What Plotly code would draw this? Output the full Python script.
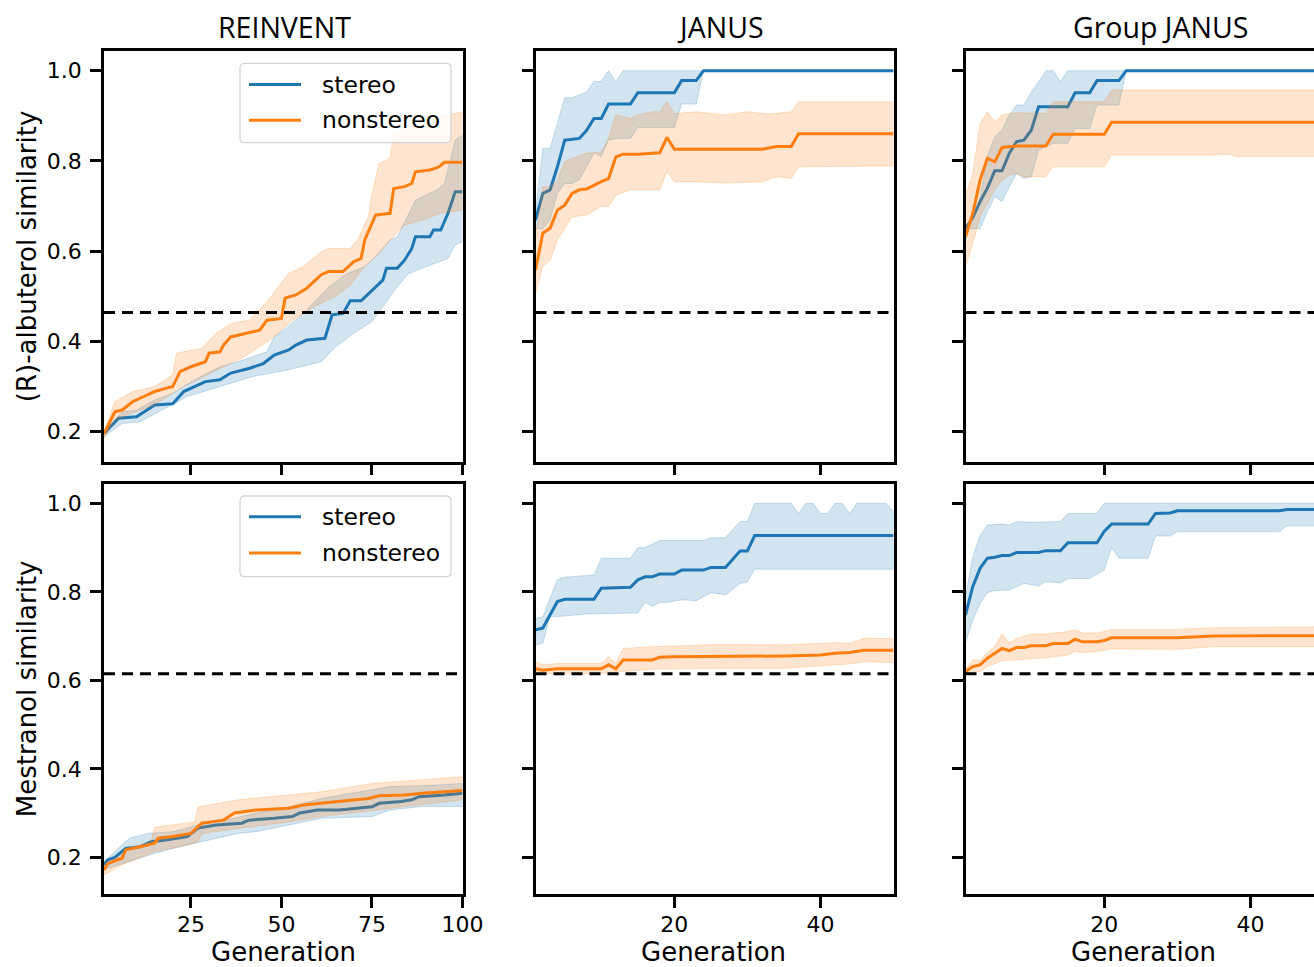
import plotly.graph_objects as go

# ---------------- data ----------------
COL_TITLES = ["REINVENT", "JANUS", "Group JANUS"]
ROW_LABELS = ["(R)-albuterol similarity", "Mestranol similarity"]
SERIES = ["stereo", "nonstereo"]
X_LABEL = "Generation"
THRESHOLDS = [0.464, 0.615]
X_TICKS = [[25, 50, 75, 100], [20, 40], [20, 40]]
Y_TICKS = [0.2, 0.4, 0.6, 0.8, 1.0]
Y_TICK_TEXT = ["0.2", "0.4", "0.6", "0.8", "1.0"]

# ---- REINVENT / (R)-albuterol ----
rein_alb_st_g = [1, 5, 10, 15, 20, 23, 26, 29, 33, 36, 41, 45, 48, 52, 54, 57, 62, 64, 67, 69, 72, 75, 78, 79, 82, 84, 86, 87, 91, 92, 94, 96, 98, 100]
rein_alb_st = [0.196, 0.23, 0.233, 0.259, 0.262, 0.289, 0.30, 0.311, 0.315, 0.33, 0.34, 0.351, 0.37, 0.381, 0.392, 0.403, 0.407, 0.459, 0.462, 0.49, 0.49, 0.514, 0.536, 0.562, 0.562, 0.58, 0.606, 0.632, 0.632, 0.647, 0.647, 0.684, 0.732, 0.732]
rein_alb_st_up_g = [1, 6, 10, 15, 20, 26, 33, 38, 46, 48, 54, 57, 63, 68, 73, 76, 80, 82, 87, 93, 95, 98, 100]
rein_alb_st_up = [0.2, 0.244, 0.248, 0.27, 0.285, 0.315, 0.344, 0.355, 0.377, 0.41, 0.447, 0.47, 0.52, 0.55, 0.566, 0.588, 0.625, 0.632, 0.713, 0.736, 0.75, 0.846, 0.857]
rein_alb_st_lo_g = [1, 6, 11, 17, 24, 33, 42, 52, 61, 65, 70, 75, 78, 82, 85, 90, 96, 98, 100]
rein_alb_st_lo = [0.189, 0.218, 0.222, 0.248, 0.278, 0.30, 0.322, 0.337, 0.355, 0.388, 0.418, 0.444, 0.477, 0.521, 0.55, 0.566, 0.584, 0.614, 0.621]
rein_alb_ns_g = [1, 4, 6, 9, 12, 15, 18, 20, 22, 25, 29, 30, 33, 34, 36, 40, 44, 46, 50, 51, 54, 57, 61, 63, 67, 70, 72, 73, 76, 80, 81, 84, 86, 87, 91, 93, 94, 95, 100]
rein_alb_ns = [0.196, 0.244, 0.248, 0.267, 0.278, 0.289, 0.296, 0.30, 0.333, 0.344, 0.355, 0.374, 0.377, 0.392, 0.41, 0.418, 0.425, 0.447, 0.451, 0.496, 0.503, 0.518, 0.548, 0.555, 0.555, 0.577, 0.584, 0.625, 0.68, 0.684, 0.739, 0.743, 0.75, 0.776, 0.78, 0.785, 0.79, 0.797, 0.797]
rein_alb_ns_up_g = [1, 4, 9, 15, 20, 21, 28, 32, 36, 41, 46, 52, 56, 61, 63, 69, 71, 74, 75, 77, 80, 81, 85, 89, 100]
rein_alb_ns_up = [0.2, 0.267, 0.289, 0.30, 0.326, 0.374, 0.385, 0.418, 0.44, 0.447, 0.488, 0.551, 0.566, 0.599, 0.606, 0.606, 0.625, 0.677, 0.728, 0.795, 0.806, 0.861, 0.872, 0.89, 0.909]
rein_alb_ns_lo_g = [1, 4, 11, 15, 22, 27, 33, 39, 48, 52, 59, 65, 69, 73, 77, 80, 84, 89, 94, 100]
rein_alb_ns_lo = [0.185, 0.226, 0.248, 0.259, 0.296, 0.315, 0.34, 0.362, 0.41, 0.44, 0.477, 0.50, 0.525, 0.566, 0.595, 0.625, 0.658, 0.669, 0.684, 0.691]

# ---- JANUS / (R)-albuterol ----
janus_alb_st_g = [1, 2, 3, 4, 5, 7, 8, 9, 10, 11, 14, 15, 20, 21, 23, 24, 50]
janus_alb_st = [0.669, 0.728, 0.736, 0.787, 0.846, 0.85, 0.868, 0.894, 0.894, 0.926, 0.926, 0.951, 0.951, 0.978, 0.978, 1.0, 1.0]
janus_alb_st_up_g = [1, 2, 3, 5, 6, 8, 9, 10, 11, 12, 13, 24, 50]
janus_alb_st_up = [0.684, 0.828, 0.828, 0.94, 0.94, 0.953, 0.976, 0.976, 1.0, 0.976, 1.0, 1.0, 1.0]
janus_alb_st_lo_g = [1, 2, 3, 4, 5, 6, 7, 8, 9, 10, 11, 12, 14, 15, 20, 21, 23, 24, 50]
janus_alb_st_lo = [0.65, 0.65, 0.669, 0.728, 0.75, 0.75, 0.758, 0.787, 0.817, 0.81, 0.846, 0.85, 0.85, 0.874, 0.874, 0.926, 0.926, 1.0, 1.0]
janus_alb_ns_g = [1, 2, 3, 4, 5, 6, 7, 8, 10, 11, 12, 13, 15, 18, 19, 20, 32, 34, 36, 37, 50]
janus_alb_ns = [0.558, 0.64, 0.651, 0.691, 0.702, 0.728, 0.736, 0.738, 0.754, 0.761, 0.809, 0.815, 0.815, 0.818, 0.852, 0.826, 0.826, 0.832, 0.832, 0.86, 0.86]
janus_alb_ns_up_g = [1, 2, 3, 4, 5, 6, 8, 10, 11, 12, 14, 15, 17, 18, 19, 20, 23, 27, 30, 33, 36, 37, 50]
janus_alb_ns_up = [0.632, 0.743, 0.743, 0.758, 0.798, 0.806, 0.817, 0.82, 0.85, 0.902, 0.894, 0.902, 0.909, 0.909, 0.931, 0.905, 0.909, 0.902, 0.909, 0.904, 0.909, 0.931, 0.931]
janus_alb_ns_lo_g = [1, 2, 3, 4, 6, 8, 10, 11, 12, 14, 18, 19, 20, 23, 27, 32, 34, 36, 37, 50]
janus_alb_ns_lo = [0.507, 0.566, 0.58, 0.625, 0.676, 0.68, 0.699, 0.699, 0.724, 0.736, 0.736, 0.776, 0.754, 0.754, 0.751, 0.754, 0.765, 0.761, 0.787, 0.789]

# ---- Group JANUS / (R)-albuterol ----
gjanus_alb_st_g = [1, 2, 3, 4, 5, 6, 7, 8, 9, 10, 11, 15, 16, 18, 19, 22, 23, 50]
gjanus_alb_st = [0.65, 0.675, 0.71, 0.74, 0.778, 0.778, 0.817, 0.843, 0.846, 0.868, 0.92, 0.92, 0.951, 0.951, 0.978, 0.978, 1.0, 1.0]
gjanus_alb_st_up_g = [1, 2, 3, 4, 5, 6, 7, 8, 9, 10, 11, 12, 13, 14, 15, 23, 50]
gjanus_alb_st_up = [0.654, 0.67, 0.72, 0.81, 0.854, 0.868, 0.902, 0.924, 0.924, 0.953, 0.975, 1.0, 1.0, 0.976, 1.0, 1.0, 1.0]
gjanus_alb_st_lo_g = [1, 3, 4, 5, 6, 7, 8, 9, 10, 11, 13, 15, 16, 18, 19, 22, 23, 50]
gjanus_alb_st_lo = [0.65, 0.65, 0.688, 0.721, 0.71, 0.743, 0.772, 0.761, 0.765, 0.824, 0.839, 0.839, 0.872, 0.872, 0.924, 0.924, 1.0, 1.0]
gjanus_alb_ns_g = [1, 2, 3, 4, 5, 6, 8, 12, 13, 20, 21, 50]
gjanus_alb_ns = [0.632, 0.684, 0.758, 0.806, 0.798, 0.83, 0.833, 0.833, 0.859, 0.859, 0.886, 0.886]
gjanus_alb_ns_up_g = [1, 2, 3, 4, 5, 6, 8, 12, 13, 20, 21, 50]
gjanus_alb_ns_up = [0.721, 0.772, 0.883, 0.909, 0.887, 0.902, 0.907, 0.905, 0.931, 0.931, 0.957, 0.957]
gjanus_alb_ns_lo_g = [1, 2, 3, 5, 6, 7, 8, 9, 12, 13, 20, 21, 35, 37, 38, 50]
gjanus_alb_ns_lo = [0.566, 0.617, 0.676, 0.736, 0.758, 0.769, 0.772, 0.765, 0.765, 0.787, 0.787, 0.813, 0.813, 0.815, 0.81, 0.81]

# ---- REINVENT / Mestranol ----
rein_mes_st_g = [1, 2, 4, 7, 11, 14, 18, 24, 27, 32, 39, 41, 48, 53, 55, 60, 66, 71, 75, 77, 83, 86, 88, 95, 100]
rein_mes_st = [0.183, 0.194, 0.2, 0.22, 0.224, 0.235, 0.239, 0.247, 0.266, 0.273, 0.277, 0.284, 0.288, 0.292, 0.30, 0.307, 0.307, 0.311, 0.314, 0.322, 0.326, 0.33, 0.337, 0.341, 0.345]
rein_mes_st_up_g = [1, 8, 13, 20, 27, 35, 43, 50, 61, 70, 80, 90, 100]
rein_mes_st_up = [0.19, 0.243, 0.254, 0.258, 0.273, 0.285, 0.30, 0.31, 0.333, 0.345, 0.36, 0.362, 0.367]
rein_mes_st_lo_g = [1, 15, 24, 38, 43, 52, 61, 75, 80, 89, 100]
rein_mes_st_lo = [0.172, 0.209, 0.228, 0.254, 0.258, 0.273, 0.288, 0.292, 0.307, 0.315, 0.315]
rein_mes_ns_g = [1, 2, 6, 7, 11, 15, 16, 20, 25, 26, 28, 34, 37, 43, 52, 56, 61, 67, 74, 77, 84, 89, 94, 100]
rein_mes_ns = [0.171, 0.186, 0.198, 0.217, 0.224, 0.232, 0.243, 0.247, 0.254, 0.262, 0.277, 0.284, 0.30, 0.307, 0.311, 0.318, 0.322, 0.326, 0.333, 0.339, 0.341, 0.345, 0.348, 0.351]
rein_mes_ns_up_g = [1, 8, 14, 15, 26, 27, 38, 52, 61, 75, 89, 100]
rein_mes_ns_up = [0.18, 0.22, 0.235, 0.268, 0.28, 0.314, 0.33, 0.341, 0.348, 0.367, 0.375, 0.382]
rein_mes_ns_lo_g = [1, 6, 15, 24, 27, 28, 38, 52, 61, 75, 89, 100]
rein_mes_ns_lo = [0.16, 0.183, 0.213, 0.228, 0.235, 0.254, 0.265, 0.28, 0.292, 0.306, 0.32, 0.33]

# ---- JANUS / Mestranol ----
janus_mes_st_g = [1, 2, 4, 5, 9, 10, 14, 15, 16, 17, 18, 20, 21, 24, 25, 27, 29, 30, 31, 50]
janus_mes_st = [0.714, 0.718, 0.778, 0.783, 0.783, 0.808, 0.81, 0.827, 0.834, 0.834, 0.84, 0.84, 0.849, 0.849, 0.855, 0.855, 0.892, 0.892, 0.927, 0.927]
janus_mes_st_up_g = [1, 2, 4, 5, 9, 10, 14, 15, 16, 18, 24, 25, 27, 29, 30, 31, 36, 37, 38, 39, 40, 41, 42, 43, 44, 45, 49, 50]
janus_mes_st_up = [0.74, 0.743, 0.828, 0.833, 0.838, 0.876, 0.876, 0.9, 0.9, 0.916, 0.916, 0.922, 0.922, 0.959, 0.959, 1.0, 1.0, 0.977, 1.0, 1.0, 0.977, 0.977, 1.0, 1.0, 0.977, 1.0, 1.0, 0.981]
janus_mes_st_lo_g = [1, 2, 3, 4, 8, 15, 16, 17, 18, 19, 21, 23, 25, 27, 29, 30, 31, 50]
janus_mes_st_lo = [0.68, 0.684, 0.744, 0.744, 0.75, 0.752, 0.776, 0.767, 0.776, 0.776, 0.782, 0.78, 0.798, 0.793, 0.819, 0.822, 0.851, 0.851]
janus_mes_ns_g = [1, 2, 4, 10, 11, 12, 13, 17, 18, 20, 35, 40, 42, 44, 46, 50]
janus_mes_ns = [0.626, 0.623, 0.626, 0.626, 0.635, 0.626, 0.646, 0.646, 0.652, 0.653, 0.655, 0.657, 0.661, 0.663, 0.668, 0.668]
janus_mes_ns_up_g = [1, 2, 4, 10, 11, 12, 13, 17, 26, 35, 42, 44, 46, 50]
janus_mes_ns_up = [0.642, 0.635, 0.638, 0.638, 0.653, 0.638, 0.672, 0.676, 0.681, 0.68, 0.685, 0.684, 0.695, 0.694]
janus_mes_ns_lo_g = [1, 2, 10, 13, 17, 26, 35, 42, 44, 46, 50]
janus_mes_ns_lo = [0.62, 0.616, 0.616, 0.62, 0.625, 0.627, 0.627, 0.635, 0.637, 0.642, 0.64]

# ---- Group JANUS / Mestranol ----
gjanus_mes_st_g = [1, 2, 3, 4, 5, 6, 7, 8, 11, 12, 14, 15, 19, 20, 21, 26, 27, 29, 30, 44, 45, 50]
gjanus_mes_st = [0.748, 0.812, 0.853, 0.876, 0.878, 0.882, 0.882, 0.889, 0.889, 0.893, 0.893, 0.911, 0.911, 0.937, 0.953, 0.953, 0.977, 0.978, 0.983, 0.983, 0.986, 0.986]
gjanus_mes_st_up_g = [1, 2, 3, 4, 6, 7, 8, 10, 14, 15, 19, 20, 50]
gjanus_mes_st_up = [0.79, 0.88, 0.928, 0.951, 0.953, 0.951, 0.959, 0.957, 0.959, 0.977, 0.977, 1.0, 1.0]
gjanus_mes_st_lo_g = [1, 2, 3, 4, 5, 7, 8, 9, 11, 12, 14, 15, 18, 19, 20, 21, 22, 26, 27, 29, 30, 44, 45, 50]
gjanus_mes_st_lo = [0.684, 0.736, 0.774, 0.798, 0.803, 0.804, 0.812, 0.819, 0.813, 0.823, 0.82, 0.83, 0.83, 0.84, 0.849, 0.9, 0.876, 0.876, 0.926, 0.926, 0.936, 0.936, 0.949, 0.949]
gjanus_mes_ns_g = [1, 2, 3, 4, 6, 7, 8, 9, 10, 12, 13, 15, 16, 17, 19, 20, 21, 30, 35, 50]
gjanus_mes_ns = [0.62, 0.631, 0.635, 0.65, 0.672, 0.667, 0.674, 0.674, 0.678, 0.678, 0.683, 0.683, 0.693, 0.687, 0.687, 0.69, 0.696, 0.696, 0.70, 0.701]
gjanus_mes_ns_up_g = [1, 2, 3, 4, 5, 6, 7, 8, 10, 12, 15, 16, 17, 19, 21, 30, 35, 50]
gjanus_mes_ns_up = [0.625, 0.646, 0.646, 0.663, 0.677, 0.704, 0.685, 0.695, 0.704, 0.705, 0.71, 0.715, 0.707, 0.707, 0.715, 0.715, 0.719, 0.721]
gjanus_mes_ns_lo_g = [1, 2, 3, 4, 6, 8, 12, 15, 16, 17, 19, 21, 30, 35, 50]
gjanus_mes_ns_lo = [0.616, 0.617, 0.62, 0.631, 0.644, 0.647, 0.651, 0.657, 0.665, 0.663, 0.665, 0.671, 0.67, 0.676, 0.676]

# panels: [row][col] -> series -> (gen, mean, up_gen, up, lo_gen, lo)
PANELS = [
    [
        {"stereo": (rein_alb_st_g, rein_alb_st, rein_alb_st_up_g, rein_alb_st_up, rein_alb_st_lo_g, rein_alb_st_lo),
         "nonstereo": (rein_alb_ns_g, rein_alb_ns, rein_alb_ns_up_g, rein_alb_ns_up, rein_alb_ns_lo_g, rein_alb_ns_lo)},
        {"stereo": (janus_alb_st_g, janus_alb_st, janus_alb_st_up_g, janus_alb_st_up, janus_alb_st_lo_g, janus_alb_st_lo),
         "nonstereo": (janus_alb_ns_g, janus_alb_ns, janus_alb_ns_up_g, janus_alb_ns_up, janus_alb_ns_lo_g, janus_alb_ns_lo)},
        {"stereo": (gjanus_alb_st_g, gjanus_alb_st, gjanus_alb_st_up_g, gjanus_alb_st_up, gjanus_alb_st_lo_g, gjanus_alb_st_lo),
         "nonstereo": (gjanus_alb_ns_g, gjanus_alb_ns, gjanus_alb_ns_up_g, gjanus_alb_ns_up, gjanus_alb_ns_lo_g, gjanus_alb_ns_lo)},
    ],
    [
        {"stereo": (rein_mes_st_g, rein_mes_st, rein_mes_st_up_g, rein_mes_st_up, rein_mes_st_lo_g, rein_mes_st_lo),
         "nonstereo": (rein_mes_ns_g, rein_mes_ns, rein_mes_ns_up_g, rein_mes_ns_up, rein_mes_ns_lo_g, rein_mes_ns_lo)},
        {"stereo": (janus_mes_st_g, janus_mes_st, janus_mes_st_up_g, janus_mes_st_up, janus_mes_st_lo_g, janus_mes_st_lo),
         "nonstereo": (janus_mes_ns_g, janus_mes_ns, janus_mes_ns_up_g, janus_mes_ns_up, janus_mes_ns_lo_g, janus_mes_ns_lo)},
        {"stereo": (gjanus_mes_st_g, gjanus_mes_st, gjanus_mes_st_up_g, gjanus_mes_st_up, gjanus_mes_st_lo_g, gjanus_mes_st_lo),
         "nonstereo": (gjanus_mes_ns_g, gjanus_mes_ns, gjanus_mes_ns_up_g, gjanus_mes_ns_up, gjanus_mes_ns_lo_g, gjanus_mes_ns_lo)},
    ],
]

# ---------------- styling / layout ----------------
W, H = 1314, 967
COL_PX = [(104, 462.5), (535.5, 893.5), (965.5, 1314)]
ROW_PX = [(50.7, 461.7), (484, 894.3)]
X_RANGES = [[1, 100], [1, 50], [1, 48.7]]
Y_RANGES = [[0.1335, 1.0443], [0.1164, 1.0436]]
LINE_COL = {"stereo": "#1f77b4", "nonstereo": "#ff7f0e"}
FILL_COL = {"stereo": "rgba(31,119,180,0.2)", "nonstereo": "rgba(255,127,14,0.2)"}
EDGE_COL = {"stereo": "rgba(31,119,180,0.22)", "nonstereo": "rgba(255,127,14,0.22)"}
TICK_FONT = dict(family="DejaVu Sans", size=22, color="black")
LABEL_FONT = dict(family="DejaVu Sans", size=26, color="black")
TITLE_FONT = dict(family="Open Sans", size=28.5, color="black")
LEG_FONT = dict(family="DejaVu Sans", size=23.5, color="black")


def px(x, y):
    return x / W, 1 - y / H


fig = go.Figure()
layout = dict(width=W, height=H, margin=dict(l=0, r=0, t=0, b=0, autoexpand=False),
              paper_bgcolor="white", plot_bgcolor="white", showlegend=False)

annotations = []
shapes = []
for r in range(2):
    for c in range(3):
        k = r * 3 + c + 1
        xname = "xaxis" if k == 1 else f"xaxis{k}"
        yname = "yaxis" if k == 1 else f"yaxis{k}"
        xref = "x" if k == 1 else f"x{k}"
        yref = "y" if k == 1 else f"y{k}"
        x0, x1 = COL_PX[c]
        y0, y1 = ROW_PX[r]
        layout[xname] = dict(
            domain=[x0 / W, x1 / W], range=X_RANGES[c], anchor=yref, automargin=False,
            showgrid=False, zeroline=False, showline=True, linecolor="black", linewidth=2.5,
            mirror=True, ticks="outside", ticklen=11, tickwidth=2.5, tickcolor="black",
            tickvals=X_TICKS[c], ticktext=[str(v) for v in X_TICKS[c]],
            showticklabels=(r == 1), tickfont=TICK_FONT, ticklabelstandoff=-2,
        )
        layout[yname] = dict(
            domain=[1 - y1 / H, 1 - y0 / H], range=Y_RANGES[r], anchor=xref, automargin=False,
            showgrid=False, zeroline=False, showline=True, linecolor="black", linewidth=2.5,
            mirror=(c != 2), ticks="outside", ticklen=11, tickwidth=2.5, tickcolor="black",
            tickvals=Y_TICKS, ticktext=Y_TICK_TEXT,
            showticklabels=(c == 0), tickfont=TICK_FONT, ticklabelstandoff=4,
        )
        panel = PANELS[r][c]
        for s in SERIES:
            g, m, ug, u, lg, lo = panel[s]
            fig.add_trace(go.Scatter(
                x=g, y=m, mode="lines", name=s, xaxis=xref, yaxis=yref,
                line=dict(color=LINE_COL[s], width=3), hoverinfo="skip",
            ))
            fig.add_trace(go.Scatter(
                x=list(ug) + list(lg)[::-1], y=list(u) + list(lo)[::-1],
                mode="lines", fill="toself", fillcolor=FILL_COL[s],
                line=dict(color=EDGE_COL[s], width=1), name=s + " band",
                xaxis=xref, yaxis=yref, hoverinfo="skip",
            ))
        shapes.append(dict(type="line", xref=f"{xref} domain", yref=yref,
                           x0=0, x1=1, y0=THRESHOLDS[r], y1=THRESHOLDS[r],
                           line=dict(color="black", width=3, dash="11px,7px")))

# column titles
TITLE_X = [284, 720, 1160]
for c, t in enumerate(COL_TITLES):
    annotations.append(dict(text=t, x=TITLE_X[c] / W, y=1 - 27 / H, xref="paper", yref="paper",
                            xanchor="center", yanchor="middle", showarrow=False, font=TITLE_FONT))
# x labels
XLAB_X = [283, 713, 1143]
for c in range(3):
    annotations.append(dict(text=X_LABEL, x=XLAB_X[c] / W, y=1 - 952 / H, xref="paper", yref="paper",
                            xanchor="center", yanchor="middle", showarrow=False, font=LABEL_FONT))
# y labels
for r, lab in enumerate(ROW_LABELS):
    yc = (ROW_PX[r][0] + ROW_PX[r][1]) / 2
    annotations.append(dict(text=lab, x=27 / W, y=1 - yc / H, xref="paper", yref="paper",
                            xanchor="center", yanchor="middle", textangle=-90,
                            showarrow=False, font=LABEL_FONT))

# legends (matplotlib-style box in column 1 of each row)
LEG_BOX = [(240, 63.3, 451, 142.7), (240, 496, 451, 576.7)]
LEG_ROWS = [(84.5, 120.3), (516.7, 553)]
RAD = 5


def P(x, y):
    a, b = px(x, y)
    return f"{a:.5f},{b:.5f}"


for r in range(2):
    bx0, by0, bx1, by1 = LEG_BOX[r]
    path = (f"M{P(bx0 + RAD, by0)} L{P(bx1 - RAD, by0)} Q{P(bx1, by0)} {P(bx1, by0 + RAD)} "
            f"L{P(bx1, by1 - RAD)} Q{P(bx1, by1)} {P(bx1 - RAD, by1)} "
            f"L{P(bx0 + RAD, by1)} Q{P(bx0, by1)} {P(bx0, by1 - RAD)} "
            f"L{P(bx0, by0 + RAD)} Q{P(bx0, by0)} {P(bx0 + RAD, by0)} Z")
    shapes.append(dict(type="path", xref="paper", yref="paper", path=path,
                       fillcolor="rgba(255,255,255,0.8)", line=dict(color="#d4d4d4", width=1.3)))
    for i, s in enumerate(SERIES):
        ly = LEG_ROWS[r][i]
        a0, b0 = px(249, ly)
        a1, _ = px(301, ly)
        shapes.append(dict(type="line", xref="paper", yref="paper", x0=a0, x1=a1, y0=b0, y1=b0,
                           line=dict(color=LINE_COL[s], width=3)))
        annotations.append(dict(text=s, x=320 / W, y=b0, xref="paper", yref="paper",
                                xanchor="left", yanchor="middle", showarrow=False, font=LEG_FONT))

layout["annotations"] = annotations
layout["shapes"] = shapes
fig.update_layout(**layout)

fig.write_html("out.html", config={"displayModeBar": False},
               post_script="document.body.style.margin='0';document.body.style.overflow='hidden';")
